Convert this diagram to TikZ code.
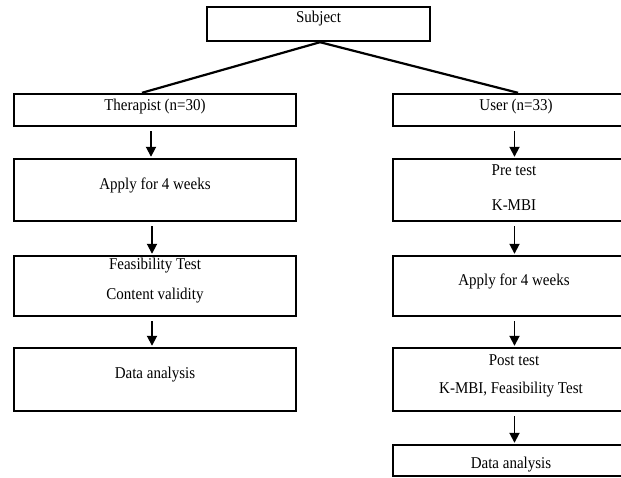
\documentclass[tikz,border=0pt]{standalone}
\usepackage{fontspec}
\setmainfont{Liberation Serif}
\usetikzlibrary{arrows.meta,calc}
\newcommand{\tallt}[1]{\scalebox{1}[1.1]{#1}}
\begin{document}
\begin{tikzpicture}[x=1pt,y=-1pt,
  box/.style={draw=black,line width=2.4pt,rectangle,inner sep=0pt},
  lbox/.style={box,minimum width=282pt},
  rbox/.style={box,minimum width=243pt},
  txt/.style={inner sep=0pt,font=\fontsize{15}{18}\selectfont},
  arr/.style={line width=1.8pt,-{Triangle[length=10pt,width=10pt]},shorten <=4pt,shorten >=1pt},
  conn/.style={line width=2.2pt}]
\useasboundingbox (0,0) rectangle (621,477);
\clip (0,0) rectangle (621,477);
% boxes
\node[box,minimum width=223pt,minimum height=34pt] (subj) at (318.5,24) {};
\node[lbox,minimum height=32pt] (ther) at (155,110) {};
\node[rbox,minimum height=32pt] (user) at (514.5,110) {};
\node[lbox,minimum height=62pt] (lapply) at (155,190) {};
\node[rbox,minimum height=62pt] (pre) at (514.5,190) {};
\node[lbox,minimum height=60pt] (feas) at (155,286) {};
\node[rbox,minimum height=60pt] (rapply) at (514.5,286) {};
\node[lbox,minimum height=63pt] (lda) at (155,379.5) {};
\node[rbox,minimum height=63pt] (post) at (514.5,379.5) {};
\node[rbox,minimum height=31pt] (rda) at (514.5,460.5) {};
% texts
\node[txt] (tsubj) at (318.5,19) {\tallt{Subject}};
\node[txt] (tther) at (155,106.5) {\tallt{Therapist (n=30)}};
\node[txt] (tuser) at (516,106.5) {\tallt{User (n=33)}};
\node[txt] (tlapply) at (155,185) {\tallt{Apply for 4 weeks}};
\node[txt] (tpre1) at (514,170) {\tallt{Pre test}};
\node[txt] (tpre2) at (514,205) {\tallt{K-MBI}};
\node[txt] (tfeas1) at (155,266) {\tallt{Feasibility Test}};
\node[txt] (tfeas2) at (155,296) {\tallt{Content validity}};
\node[txt] (trapply) at (514,281) {\tallt{Apply for 4 weeks}};
\node[txt] (tlda) at (155,375) {\tallt{Data analysis}};
\node[txt] (tpost1) at (514,360) {\tallt{Post test}};
\node[txt] (tpost2) at (511,390) {\tallt{K-MBI, Feasibility Test}};
\node[txt] (trda) at (511,464.5) {\tallt{Data analysis}};
% connectors
\draw[conn] ([xshift=1.5pt]subj.south) -- ([xshift=-13pt]ther.north);
\draw[conn] ([xshift=1.5pt]subj.south) -- ([xshift=3.5pt]user.north);
\draw[arr] ([xshift=-4pt]ther.south) -- ([xshift=-4pt]lapply.north);
\draw[arr] ([xshift=-3pt]lapply.south) -- ([xshift=-3pt]feas.north);
\draw[arr] ([xshift=-3pt]feas.south) -- ([xshift=-3pt]lda.north);
\draw[arr] (user.south) -- (pre.north);
\draw[arr] (pre.south) -- (rapply.north);
\draw[arr] (rapply.south) -- (post.north);
\draw[arr] (post.south) -- (rda.north);
\end{tikzpicture}
\end{document}
